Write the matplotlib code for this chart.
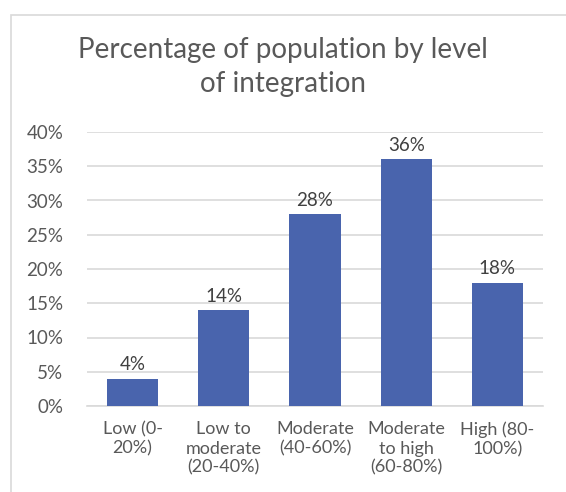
import numpy as np
import matplotlib.pyplot as plt
from matplotlib.patches import Rectangle

categories = ['Low (0-\n20%)', 'Low to\nmoderate\n(20-40%)', 'Moderate\n(40-60%)',
              'Moderate\nto high\n(60-80%)', 'High (80-\n100%)']
values = [4, 14, 28, 36, 18]
yticks = [0, 5, 10, 15, 20, 25, 30, 35, 40]

grey = '#595959'
bar_color = '#4964ad'
plt.rcParams['font.family'] = ['Lato', 'DejaVu Sans']

fig = plt.figure(figsize=(5.66, 4.92), dpi=100)
# chart frame (left and top edges)
fig.patches.append(Rectangle((11 / 566, -0.1), 1.2, (492 - 15) / 492 + 0.1,
                             transform=fig.transFigure, fill=False,
                             edgecolor='#d9d9d9', linewidth=1.2))

ax = fig.add_axes([87 / 566, (492 - 406) / 492, (543 - 87) / 566, (406 - 132) / 492])
x = np.arange(len(values))
bars = ax.bar(x, values, width=0.56, color=bar_color, zorder=3)
for xi, v in zip(x, values):
    ax.text(xi, v + 0.8, f'{v}%', ha='center', va='bottom', fontsize=13.5, color='#404040')

ax.set_xlim(-0.5, len(values) - 0.5)
ax.set_ylim(0, 40)
ax.set_yticks(yticks)
ax.set_yticklabels([f'{t}%' for t in yticks], fontsize=13.5, color=grey)
ax.set_xticks(x)
ax.set_xticklabels(categories, fontsize=13, color=grey, linespacing=1.25)
ax.tick_params(length=0)
ax.tick_params(axis='y', pad=17)
ax.tick_params(axis='x', pad=11)
ax.yaxis.grid(True, color='#d9d9d9', linewidth=1.2, zorder=0)
for s in ['top', 'right', 'left']:
    ax.spines[s].set_visible(False)
ax.spines['bottom'].set_color('#d9d9d9')
ax.spines['bottom'].set_linewidth(1.2)

fig.text(0.5, 1 - 67 / 492, 'Percentage of population by level\nof integration',
         ha='center', va='center', fontsize=20, color=grey, linespacing=1.35)

fig.savefig('out.png', dpi=100)
